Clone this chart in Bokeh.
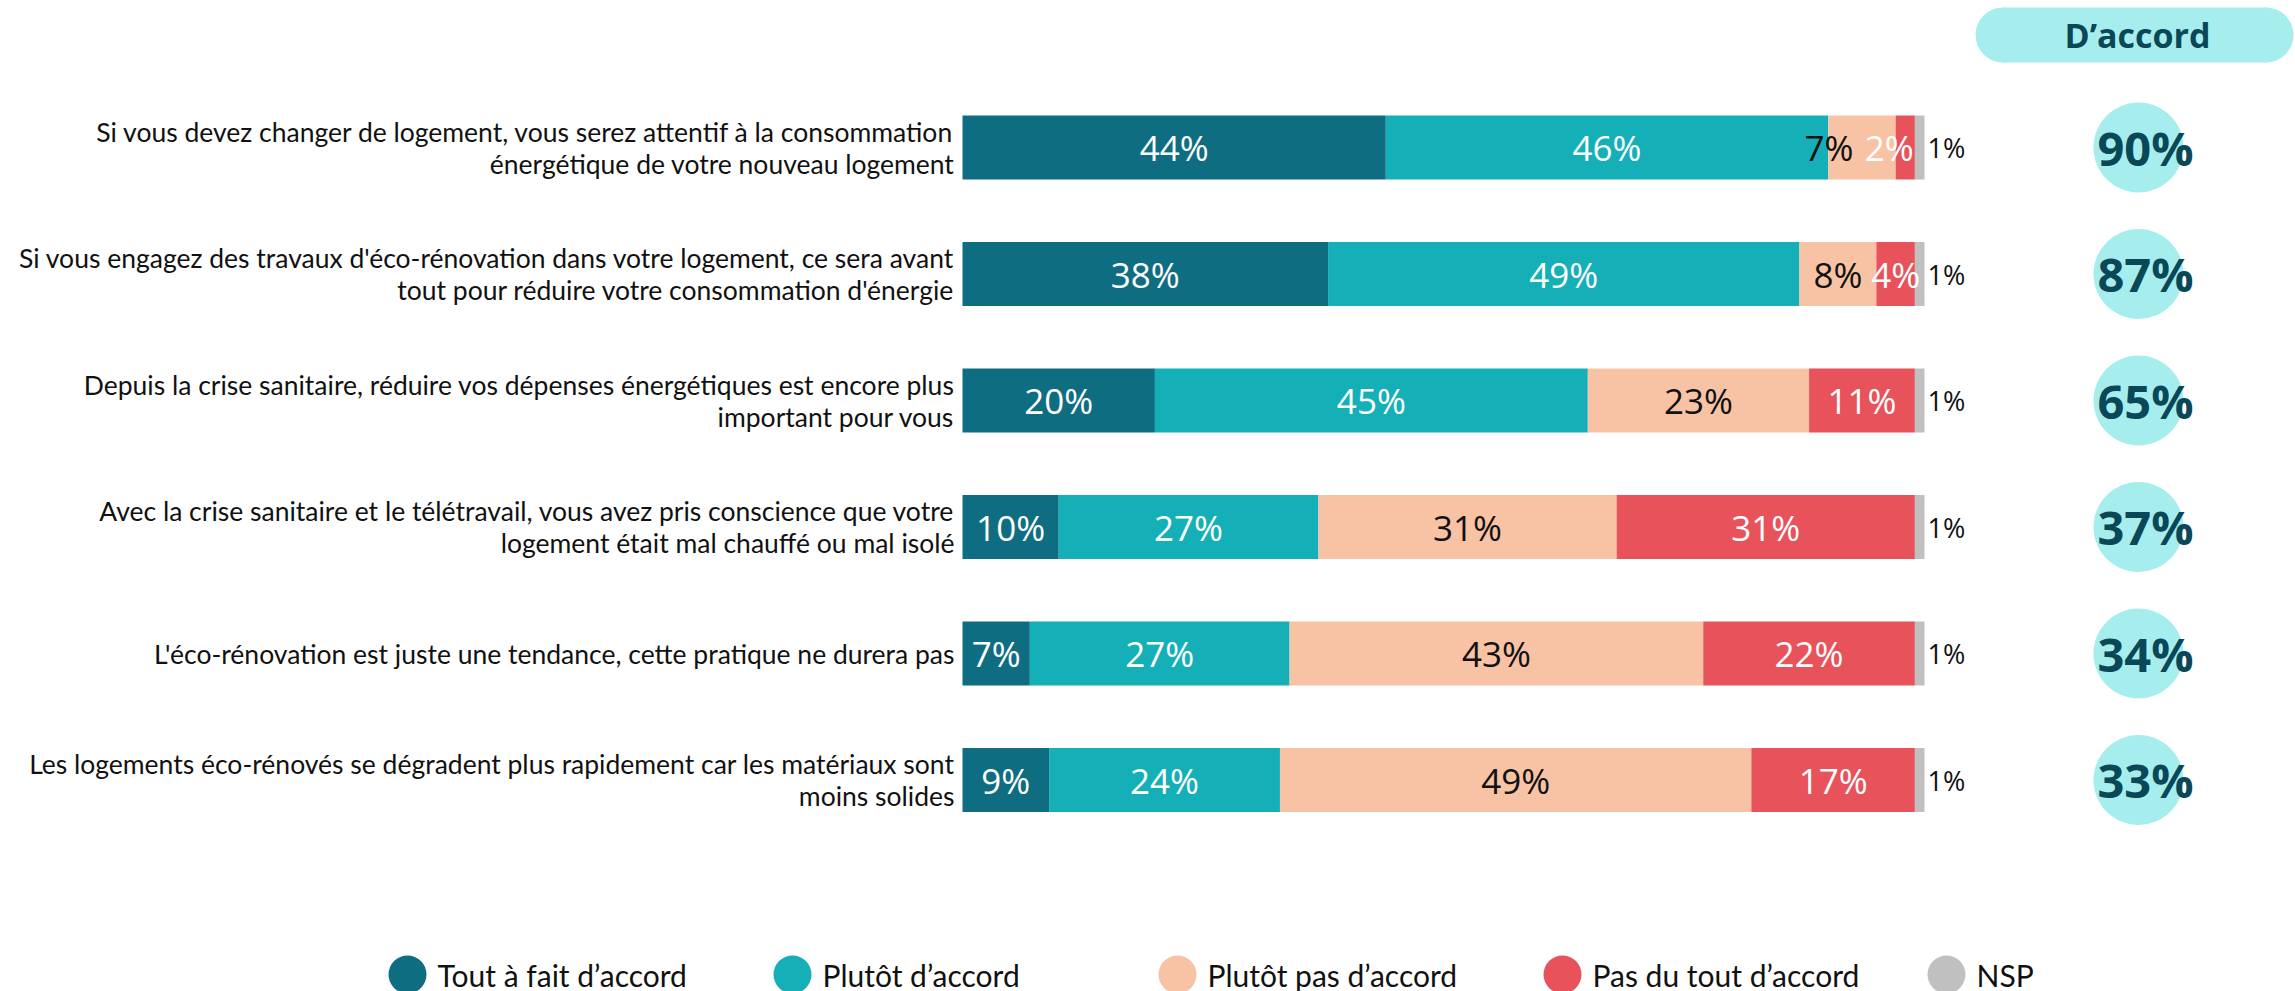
from bokeh.plotting import figure
from bokeh.models import Range1d, ColumnDataSource
from bokeh.embed import file_html
from bokeh.resources import INLINE
from bokeh.core.properties import value

# ---------------- data ----------------
categories = [
    "Si vous devez changer de logement, vous serez attentif à la consommation\nénergétique de votre nouveau logement",
    "Si vous engagez des travaux d'éco-rénovation dans votre logement, ce sera avant\ntout pour réduire votre consommation d'énergie",
    "Depuis la crise sanitaire, réduire vos dépenses énergétiques est encore plus\nimportant pour vous",
    "Avec la crise sanitaire et le télétravail, vous avez pris conscience que votre\nlogement était mal chauffé ou mal isolé",
    "L'éco-rénovation est juste une tendance, cette pratique ne durera pas",
    "Les logements éco-rénovés se dégradent plus rapidement car les matériaux sont\nmoins solides",
]
tout = [44, 38, 20, 10, 7, 9]
plutot = [46, 49, 45, 27, 27, 24]
plutot_pas = [7, 8, 23, 31, 43, 49]
pas_du_tout = [2, 4, 11, 31, 22, 17]
nsp = [1, 1, 1, 1, 1, 1]
accord = [90, 87, 65, 37, 34, 33]
series_names = ["Tout à fait d’accord", "Plutôt d’accord", "Plutôt pas d’accord",
                "Pas du tout d’accord", "NSP"]
header = "D’accord"

# ---------------- styles ----------------
colors = ["#0f6d82", "#15afb8", "#f7c3a4", "#e8525b", "#c0c0c0"]
label_colors = ["white", "white", "#111111", "white"]
label_dx = [[0, 0, -33, -16], [0, 0, 0, 0], [0, 0, 0, 0],
            [0, 0, 0, 0], [0, 0, 0, 0], [0, 0, 0, 0]]
PILL = "#a6eeee"
DARK = "#0a4757"

W, H = 2295, 991
X0_PX, PX_PER_PCT = 962, 9.62
ROW0_PX, ROW_PITCH = 147, 126.5


def px_x(px):
    return (px - X0_PX) / PX_PER_PCT


def px_y(py):
    return (py - ROW0_PX) / ROW_PITCH


p = figure(width=W, height=H, output_backend="svg", toolbar_location=None,
           x_axis_location=None, y_axis_location=None, min_border=0,
           x_range=Range1d(px_x(0), px_x(W)), y_range=Range1d(px_y(H), px_y(0)))
p.outline_line_color = None
p.xgrid.visible = False
p.ygrid.visible = False
p.background_fill_color = "white"
p.border_fill_color = "white"

rows = list(range(len(categories)))
series = [tout, plutot, plutot_pas, pas_du_tout, nsp]

lefts = [0] * len(rows)
lab_x, lab_y, lab_t, lab_c, lab_dx = [], [], [], [], []
for k, vals in enumerate(series):
    rights = [l + v for l, v in zip(lefts, vals)]
    p.hbar(y=rows, left=lefts, right=rights, height=0.506,
           fill_color=colors[k], line_color=None)
    if k < 4:
        for i in rows:
            lab_x.append((lefts[i] + rights[i]) / 2)
            lab_y.append(i)
            lab_t.append(f"{vals[i]}%")
            lab_c.append(label_colors[k])
            lab_dx.append(label_dx[i][k])
    lefts = rights

src = ColumnDataSource(dict(x=lab_x, y=lab_y, t=lab_t, c=lab_c, dx=lab_dx))
p.text(x="x", y="y", text="t", text_color="c", x_offset="dx", source=src,
       text_align="center", text_baseline="middle",
       text_font=value("Open Sans"), text_font_size="35px")

# NSP labels outside the bar
p.text(x=lefts, y=rows, text=[f"{v}%" for v in nsp], x_offset=3,
       text_align="left", text_baseline="middle", text_color="#111111",
       text_font=value("Open Sans"), text_font_size="27px")

# category labels
p.text(x=[0] * len(rows), y=rows, text=categories, x_offset=-8,
       text_align="right", text_baseline="middle", text_color="#111111",
       text_font=value("Lato"), text_font_size="26.5px", text_line_height=1.0)

# D'accord column
col_x = px_x(2138)
p.scatter(x=[col_x] * len(rows), y=rows, size=90, marker="circle",
          fill_color=PILL, line_color=None)
p.text(x=[col_x] * len(rows), y=rows, text=[f"{v}%" for v in accord], x_offset=7,
       text_align="center", text_baseline="middle", text_color=DARK,
       text_font=value("Open Sans"), text_font_style="bold", text_font_size="47px")

# header pill
pill_y = px_y(34.5)
pl, pr = px_x(2002.5), px_x(2265.5)
p.rect(x=[(pl + pr) / 2], y=[pill_y], width=[pr - pl], height=55, height_units="screen",
       fill_color=PILL, line_color=None)
p.scatter(x=[pl, pr], y=[pill_y, pill_y], size=55, marker="circle",
          fill_color=PILL, line_color=None)
p.text(x=[px_x(2137)], y=[pill_y], text=[header], text_align="center",
       text_baseline="middle", text_color=DARK, text_font=value("Open Sans"),
       text_font_style="bold", text_font_size="34px")

# legend
leg_px = [407, 792, 1177, 1562, 1946]
leg_x = [px_x(v) for v in leg_px]
leg_y = px_y(974)
p.scatter(x=leg_x, y=[leg_y] * 5, size=38, marker="circle",
          fill_color=colors, line_color=None)
p.text(x=leg_x, y=[leg_y] * 5, text=series_names, x_offset=30,
       text_align="left", text_baseline="middle", text_color="#111111",
       text_font=value("Lato"), text_font_size="30px")

open("out.html", "w").write(file_html(p, INLINE))
